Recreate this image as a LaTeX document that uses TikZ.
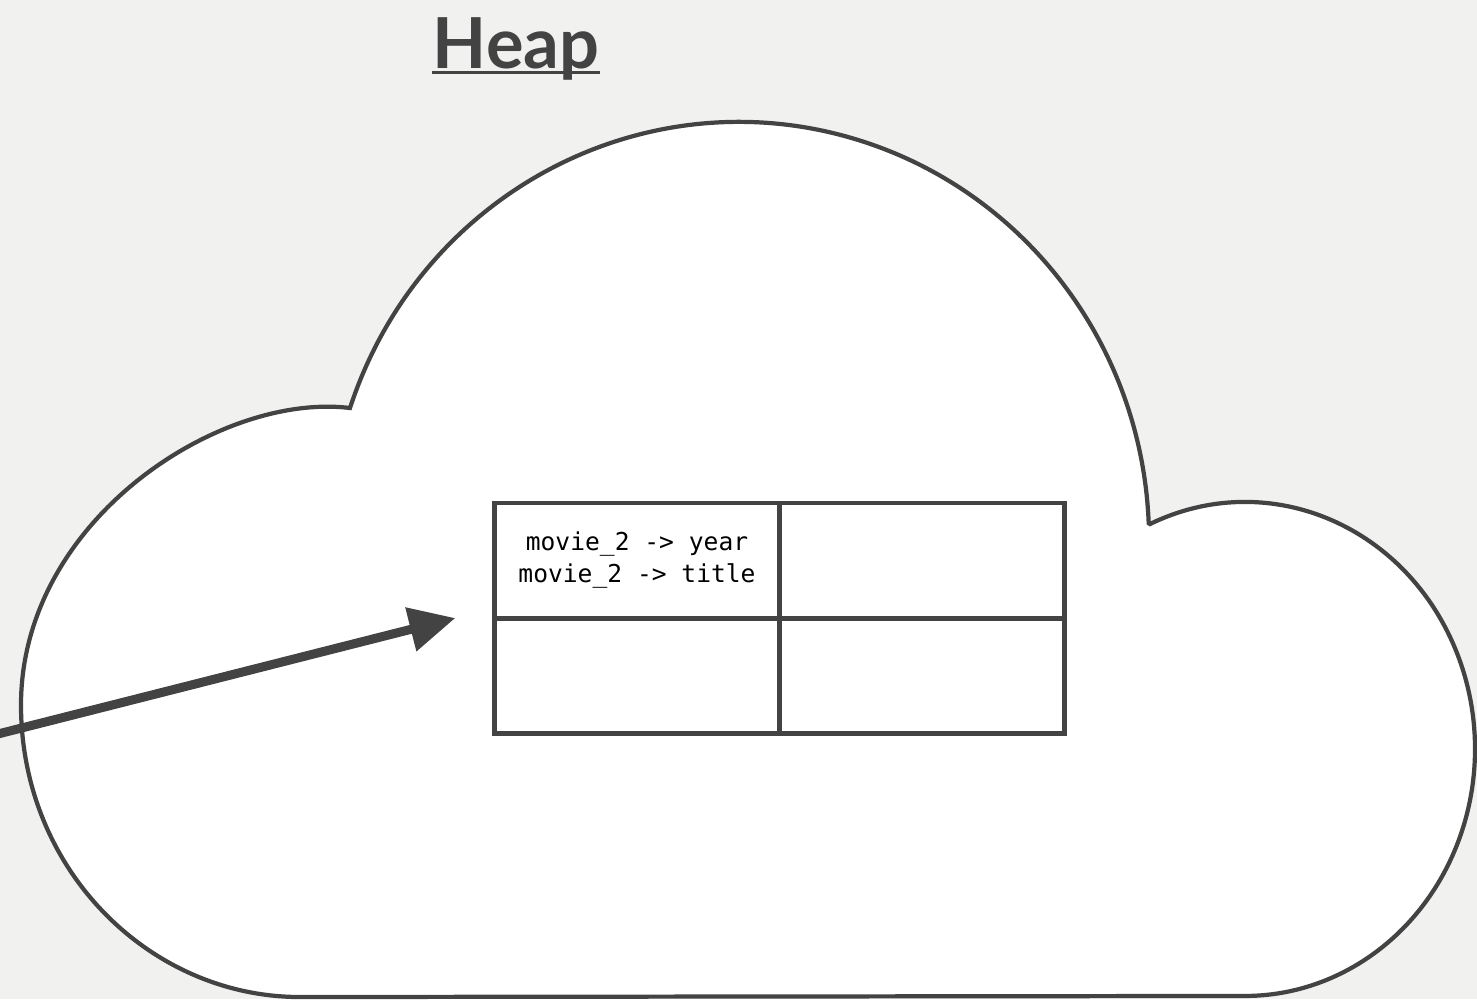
\documentclass[tikz,border=0pt]{standalone}
\usepackage{fontspec}
\setmainfont{Lato}
\setmonofont{DejaVu Sans Mono}
\usetikzlibrary{positioning,arrows.meta}
\definecolor{ink}{HTML}{434343}
\definecolor{paper}{HTML}{F1F1F0}

\begin{document}
\begin{tikzpicture}[x=0.01cm,y=-0.01cm,
  cell/.style={shape=rectangle,draw=ink,fill=white,line width=1.4pt,minimum width=2.85cm,minimum height=1.15cm,inner sep=0pt,outer sep=0pt,align=center,font=\ttfamily\fontsize{7}{9.1}\selectfont}]
\fill[paper] (0,0) rectangle (1477,999);
\useasboundingbox (0,0) rectangle (1477,999);

\draw[ink,fill=white,line width=1.2pt] (350,408) arc[start angle=-161.6,end angle=-2.3,x radius=410,y radius=418] -- (1150,524) arc[start angle=-114.4,end angle=90,x radius=230,y radius=247] -- (300,997) .. controls (150,997) and (21,870) .. (21,705) .. controls (21,520) and (220,392) .. (350,408) -- cycle;

\node[font=\bfseries\fontsize{20}{24}\selectfont,text=ink,inner sep=0pt,anchor=base] (heap) at (516,68) {Heap};
\draw[ink,line width=1.1pt] ([yshift=-0.45mm]heap.base west) -- ([yshift=-0.45mm]heap.base east);

\node[cell] (c11) at (637,560.5) {\raisebox{-0.3mm}{movie\_2 -> year}\\\raisebox{-0.3mm}{movie\_2 -> title}};
\node[cell,right=0pt of c11] (c12) {};
\node[cell,below=0pt of c11] (c21) {};
\node[cell,right=0pt of c21] (c22) {};

\coordinate (ref) at (-10,736);
\draw[ink,line width=0.09cm,-{Triangle[length=0.46cm,width=0.43cm]}] (ref) -- ([xshift=-0.39cm]c21.north west);
\end{tikzpicture}
\end{document}
